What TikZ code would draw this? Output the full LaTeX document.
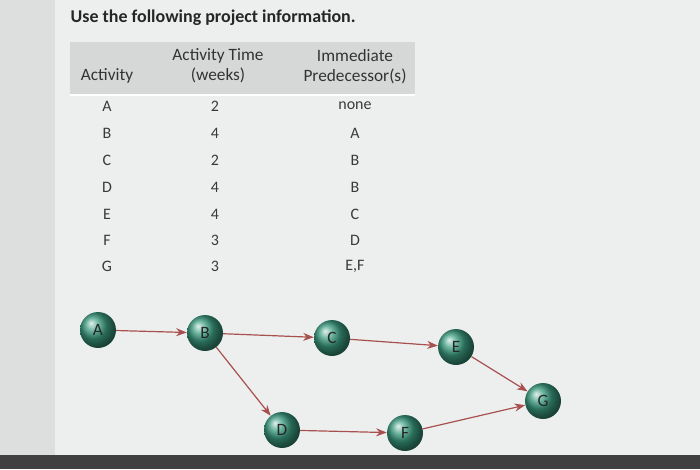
\documentclass[tikz,border=0pt]{standalone}
\usepackage{fontspec}
\setmainfont{Carlito}
\usetikzlibrary{arrows.meta}
\definecolor{bgc}{HTML}{EDEFEF}
\definecolor{hdr}{HTML}{D6D8D8}
\definecolor{txt}{HTML}{3A3A3A}
\definecolor{arr}{HTML}{A8504E}
\definecolor{teal}{HTML}{3A9A7E}
\begin{document}
\begin{tikzpicture}[x=0.0264cm,y=-0.0264cm,
  ev/.style={circle,minimum size=27pt,inner sep=0pt,ball color=teal,text=black!85,font=\fontsize{13}{14}\selectfont},
  con/.style={arr,line width=0.9pt,-{Stealth[length=8pt,width=6pt]}},
  cell/.style={text=txt,font=\fontsize{12}{14}\selectfont},
  head/.style={text=black!80,font=\fontsize{13}{15}\selectfont,align=center}]
\useasboundingbox (0,0) rectangle (700,469);
\fill[bgc!85!gray] (0,0) rectangle (700,469);
\fill[bgc] (55,0) rectangle (700,455);
\fill[black!75] (0,455) rectangle (700,469);
\node[anchor=west,text=black!85,font=\bfseries\fontsize{13.5}{15}\selectfont] (title) at (66,18) {Use the following project information.};
\fill[hdr] (70,42) rectangle (415,95);
\draw[white,line width=1pt] (70,95) -- (415,95);
\node[head] (h1) at (107,76) {Activity};
\node[head] (h2) at (218,66) {Activity Time\\(weeks)};
\node[head] (h3) at (355,67) {Immediate\\Predecessor(s)};
\foreach \a/\t/\p/\y in {A/2/none/106,B/4/A/133,C/2/B/160,D/4/B/187,E/4/C/214,F/3/D/240,G/3/{E,F}/266}{
  \node[cell] (a\a) at (107,\y) {\a};
  \node[cell] (t\a) at (215,\y) {\t};
  \node[cell] (p\a) at (355,\y) {\p};
}
\node[ev] (A) at (98,330) {A};
\node[ev] (B) at (205,333) {B};
\node[ev] (C) at (332,338) {C};
\node[ev] (E) at (456,347) {E};
\node[ev] (D) at (282,430) {D};
\node[ev] (F) at (405,433) {F};
\node[ev] (G) at (543,401) {G};
\draw[con] (A) -- (B);
\draw[con] (B) -- (C);
\draw[con] (B) -- (D);
\draw[con] (C) -- (E);
\draw[con] (E) -- (G);
\draw[con] (D) -- (F);
\draw[con] (F) -- (G);
\end{tikzpicture}
\end{document}
